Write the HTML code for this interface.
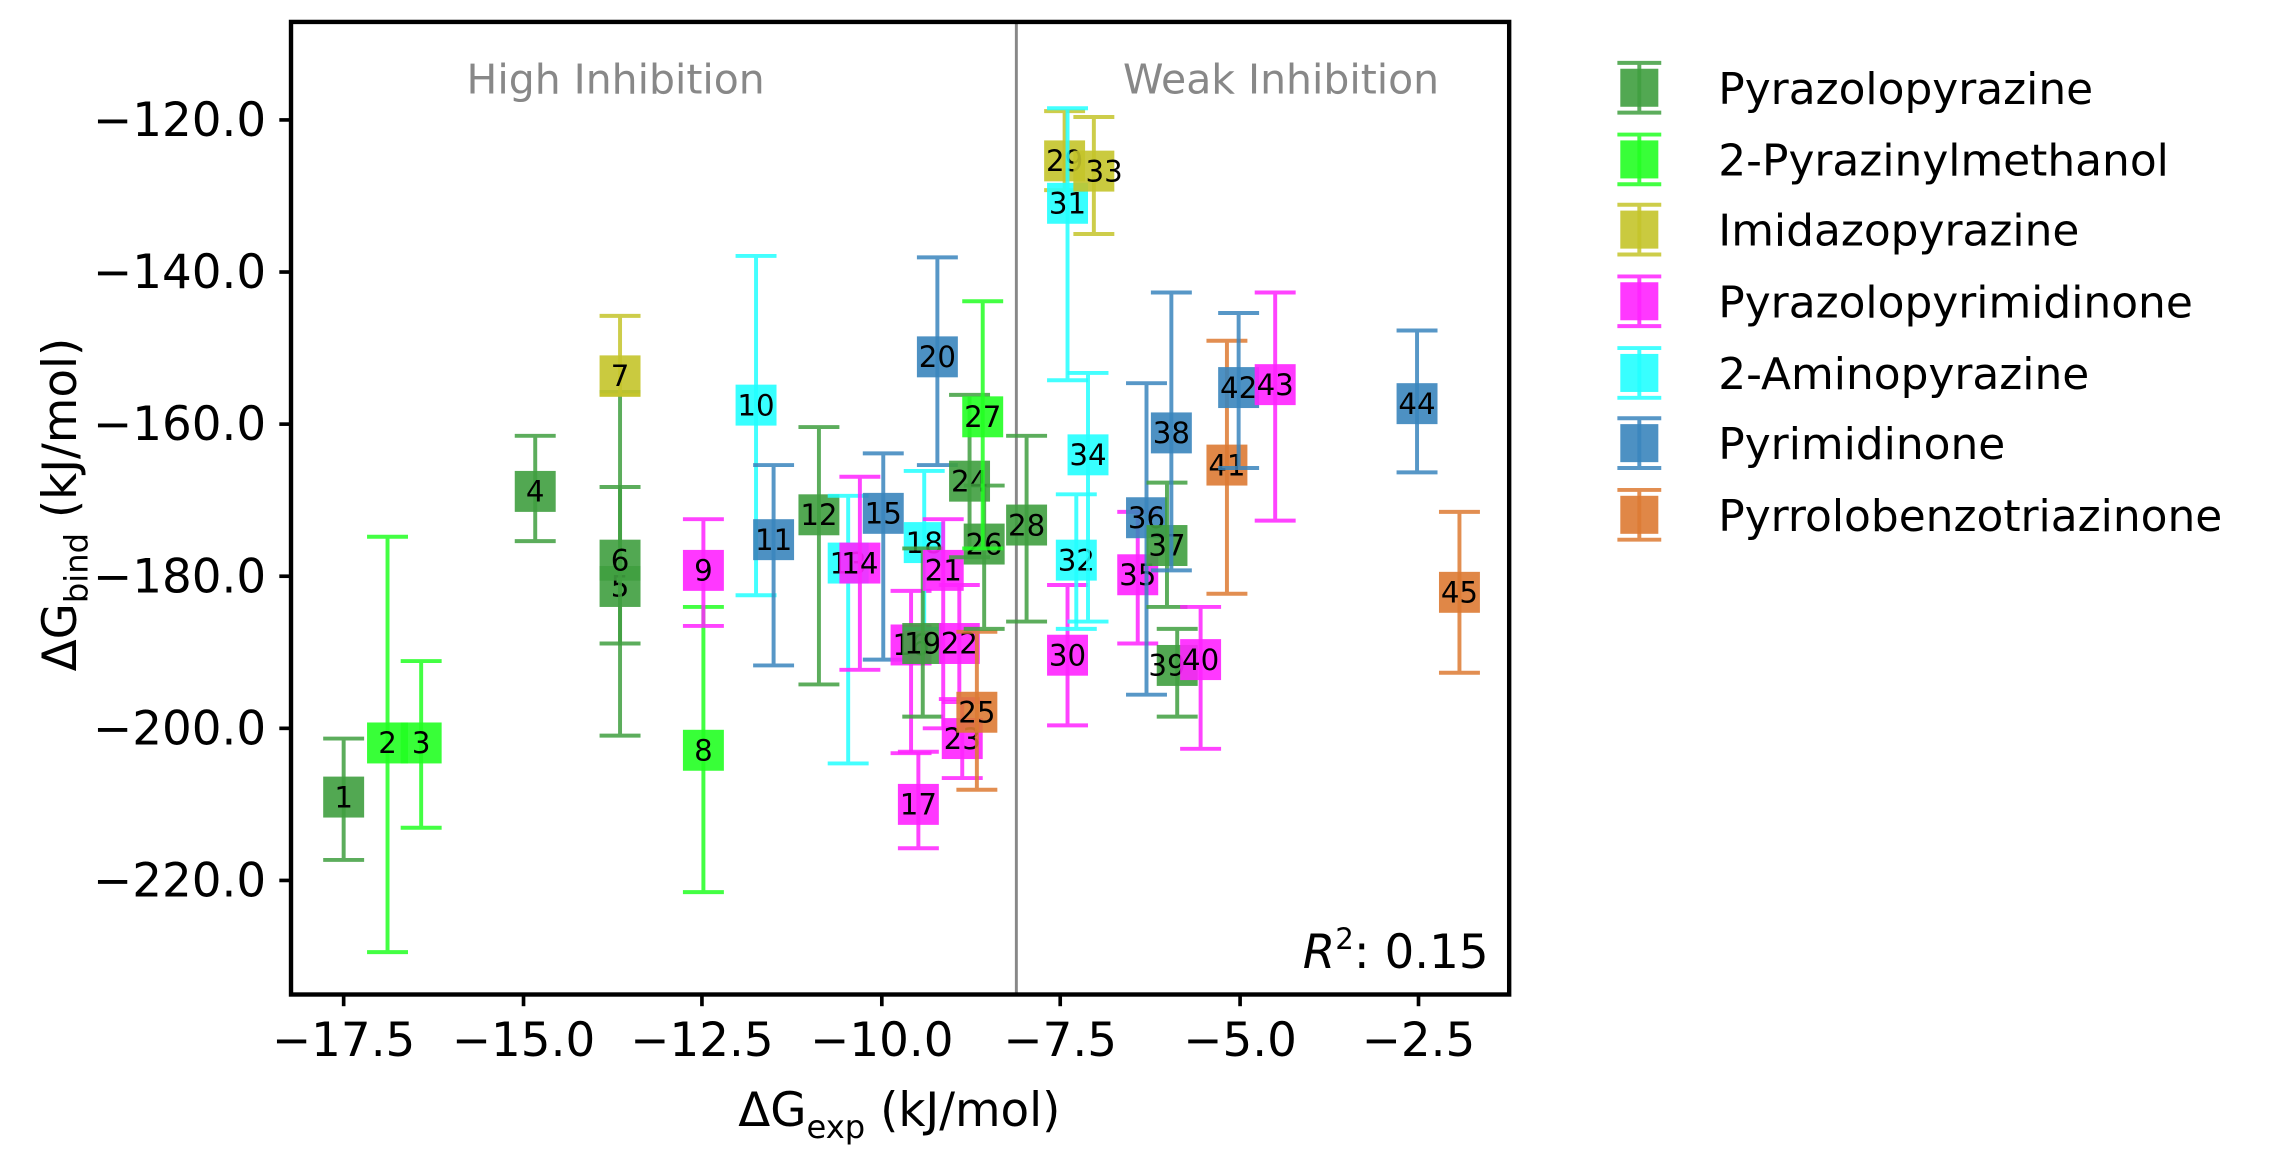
<!DOCTYPE html>
<html><head><meta charset="utf-8"><style>
html,body{margin:0;padding:0;background:#fff;}
svg{display:block;font-family:"DejaVu Sans","Liberation Sans",sans-serif;}
.p path{fill:none;stroke-width:2.7;opacity:0.85}
.p rect{opacity:0.9}
.p text{font-size:20px;text-anchor:middle;fill:#000}
.G path{stroke:#3f9f3f}.G rect{fill:#3f9f3f}
.L path{stroke:#22ff22}.L rect{fill:#22ff22}
.O path{stroke:#c4c42a}.O rect{fill:#c4c42a}
.M path{stroke:#ff22ff}.M rect{fill:#ff22ff}
.C path{stroke:#22ffff}.C rect{fill:#22ffff}
.B path{stroke:#3a85bd}.B rect{fill:#3a85bd}
.R path{stroke:#dd7a33}.R rect{fill:#dd7a33}
.lg text{font-size:30px;fill:#000}
</style></head><body>
<svg width="2293" height="1151" viewBox="0 0 1568 787" preserveAspectRatio="none" xmlns="http://www.w3.org/2000/svg">
<rect width="1568" height="787" fill="#fff"/>
<line x1="695" y1="15" x2="695" y2="680" stroke="#888" stroke-width="2"/>
<text x="421" y="64" font-size="28" fill="#888" text-anchor="middle">High Inhibition</text>
<text x="876" y="64" font-size="28" fill="#888" text-anchor="middle">Weak Inhibition</text>

<g class="p G"><path d="M235 505V588M221 505H249M221 588H249"/><rect x="221" y="531" width="28" height="28"/><text x="235" y="552">1</text></g>
<g class="p L"><path d="M265 367V651M251 367H279M251 651H279"/><rect x="251" y="494" width="28" height="28"/><text x="265" y="515">2</text></g>
<g class="p L"><path d="M288 452V566M274 452H302M274 566H302"/><rect x="274" y="494" width="28" height="28"/><text x="288" y="515">3</text></g>
<g class="p G"><path d="M366 298V370M352 298H380M352 370H380"/><rect x="352" y="322" width="28" height="28"/><text x="366" y="343">4</text></g>
<g class="p G"><path d="M424 268V503M410 268H438M410 503H438"/><rect x="410" y="387" width="28" height="28"/><text x="424" y="408">5</text></g>
<g class="p G"><path d="M424 333V440M410 333H438M410 440H438"/><rect x="410" y="369" width="28" height="28"/><text x="424" y="390">6</text></g>
<g class="p O"><path d="M424 216V270M410 216H438M410 270H438"/><rect x="410" y="243" width="28" height="28"/><text x="424" y="264">7</text></g>
<g class="p L"><path d="M481 415V610M467 415H495M467 610H495"/><rect x="467" y="499" width="28" height="28"/><text x="481" y="520">8</text></g>
<g class="p M"><path d="M481 355V428M467 355H495M467 428H495"/><rect x="467" y="376" width="28" height="28"/><text x="481" y="397">9</text></g>
<g class="p C"><path d="M517 175V407M503 175H531M503 407H531"/><rect x="503" y="263" width="28" height="28"/><text x="517" y="284">10</text></g>
<g class="p B"><path d="M529 318V455M515 318H543M515 455H543"/><rect x="515" y="355" width="28" height="28"/><text x="529" y="376">11</text></g>
<g class="p G"><path d="M560 292V468M546 292H574M546 468H574"/><rect x="546" y="338" width="28" height="28"/><text x="560" y="359">12</text></g>
<g class="p C"><path d="M580 339V522M566 339H594M566 522H594"/><rect x="566" y="371" width="28" height="28"/><text x="580" y="392">13</text></g>
<g class="p M"><path d="M588 326V458M574 326H602M574 458H602"/><rect x="574" y="371" width="28" height="28"/><text x="588" y="392">14</text></g>
<g class="p B"><path d="M604 310V451M590 310H618M590 451H618"/><rect x="590" y="337" width="28" height="28"/><text x="604" y="358">15</text></g>
<g class="p M"><path d="M623 404V515M609 404H637M609 515H637"/><rect x="609" y="427" width="28" height="28"/><text x="623" y="448">16</text></g>
<g class="p M"><path d="M628 514V580M614 514H642M614 580H642"/><rect x="614" y="536" width="28" height="28"/><text x="628" y="557">17</text></g>
<g class="p C"><path d="M632 322V430M618 322H646M618 430H646"/><rect x="618" y="357" width="28" height="28"/><text x="632" y="378">18</text></g>
<g class="p G"><path d="M631 375V490M617 375H645M617 490H645"/><rect x="617" y="426" width="28" height="28"/><text x="631" y="447">19</text></g>
<g class="p B"><path d="M641 176V318M627 176H655M627 318H655"/><rect x="627" y="230" width="28" height="28"/><text x="641" y="251">20</text></g>
<g class="p M"><path d="M645 355V498M631 355H659M631 498H659"/><rect x="631" y="376" width="28" height="28"/><text x="645" y="397">21</text></g>
<g class="p M"><path d="M656 400V478M642 400H670M642 478H670"/><rect x="642" y="426" width="28" height="28"/><text x="656" y="447">22</text></g>
<g class="p M"><path d="M658 480V532M644 480H672M644 532H672"/><rect x="644" y="491" width="28" height="28"/><text x="658" y="512">23</text></g>
<g class="p G"><path d="M663 270V381M649 270H677M649 381H677"/><rect x="649" y="315" width="28" height="28"/><text x="663" y="336">24</text></g>
<g class="p R"><path d="M668 432V540M654 432H682M654 540H682"/><rect x="654" y="473" width="28" height="28"/><text x="668" y="494">25</text></g>
<g class="p G"><path d="M673 332V430M659 332H687M659 430H687"/><rect x="659" y="358" width="28" height="28"/><text x="673" y="379">26</text></g>
<g class="p L"><path d="M672 206V375M658 206H686M658 375H686"/><rect x="658" y="271" width="28" height="28"/><text x="672" y="292">27</text></g>
<g class="p G"><path d="M702 298V425M688 298H716M688 425H716"/><rect x="688" y="345" width="28" height="28"/><text x="702" y="366">28</text></g>
<g class="p O"><path d="M728 76V130M714 76H742M714 130H742"/><rect x="714" y="96" width="28" height="28"/><text x="728" y="117">29</text></g>
<g class="p M"><path d="M730 400V496M716 400H744M716 496H744"/><rect x="716" y="434" width="28" height="28"/><text x="730" y="455">30</text></g>
<g class="p C"><path d="M730 74V260M716 74H744M716 260H744"/><rect x="716" y="125" width="28" height="28"/><text x="730" y="146">31</text></g>
<g class="p C"><path d="M736 338V430M722 338H750M722 430H750"/><rect x="722" y="369" width="28" height="28"/><text x="736" y="390">32</text></g>
<g class="p O"><path d="M748 80V160M734 80H762M734 160H762"/><rect x="734" y="103" width="28" height="28"/><text x="755" y="124">33</text></g>
<g class="p C"><path d="M744 255V425M730 255H758M730 425H758"/><rect x="730" y="297" width="28" height="28"/><text x="744" y="318">34</text></g>
<g class="p M"><path d="M778 350V440M764 350H792M764 440H792"/><rect x="764" y="379" width="28" height="28"/><text x="778" y="400">35</text></g>
<g class="p B"><path d="M784 262V475M770 262H798M770 475H798"/><rect x="770" y="340" width="28" height="28"/><text x="784" y="361">36</text></g>
<g class="p G"><path d="M798 330V415M784 330H812M784 415H812"/><rect x="784" y="359" width="28" height="28"/><text x="798" y="380">37</text></g>
<g class="p B"><path d="M801 200V390M787 200H815M787 390H815"/><rect x="787" y="282" width="28" height="28"/><text x="801" y="303">38</text></g>
<g class="p G"><path d="M805 430V490M791 430H819M791 490H819"/><rect x="791" y="441" width="28" height="28"/><text x="798" y="462">39</text></g>
<g class="p M"><path d="M821 415V512M807 415H835M807 512H835"/><rect x="807" y="437" width="28" height="28"/><text x="821" y="458">40</text></g>
<g class="p R"><path d="M839 233V406M825 233H853M825 406H853"/><rect x="825" y="304" width="28" height="28"/><text x="839" y="325">41</text></g>
<g class="p B"><path d="M847 214V320M833 214H861M833 320H861"/><rect x="833" y="251" width="28" height="28"/><text x="847" y="272">42</text></g>
<g class="p M"><path d="M872 200V356M858 200H886M858 356H886"/><rect x="858" y="249" width="28" height="28"/><text x="872" y="270">43</text></g>
<g class="p B"><path d="M969 226V323M955 226H983M955 323H983"/><rect x="955" y="262" width="28" height="28"/><text x="969" y="283">44</text></g>
<g class="p R"><path d="M998 350V460M984 350H1012M984 460H1012"/><rect x="984" y="391" width="28" height="28"/><text x="998" y="412">45</text></g>

<text x="1018" y="662" font-size="32" text-anchor="end"><tspan font-style="italic">R</tspan><tspan font-size="20" dy="-13">2</tspan><tspan dy="13">: 0.15</tspan></text>
<rect x="199" y="15" width="833" height="665" fill="none" stroke="#000" stroke-width="3"/>
<g stroke="#000" stroke-width="2.5">
<line x1="199" y1="82" x2="191" y2="82"/><line x1="199" y1="186" x2="191" y2="186"/><line x1="199" y1="290" x2="191" y2="290"/><line x1="199" y1="394" x2="191" y2="394"/><line x1="199" y1="498" x2="191" y2="498"/><line x1="199" y1="602" x2="191" y2="602"/>
<line x1="235" y1="680" x2="235" y2="688"/><line x1="358" y1="680" x2="358" y2="688"/><line x1="480" y1="680" x2="480" y2="688"/><line x1="603" y1="680" x2="603" y2="688"/><line x1="725" y1="680" x2="725" y2="688"/><line x1="848" y1="680" x2="848" y2="688"/><line x1="970" y1="680" x2="970" y2="688"/>
</g>
<g font-size="32" fill="#000" text-anchor="end">
<text x="182" y="93">−120.0</text><text x="182" y="197">−140.0</text><text x="182" y="301">−160.0</text><text x="182" y="405">−180.0</text><text x="182" y="509">−200.0</text><text x="182" y="613">−220.0</text>
</g>
<g font-size="32" fill="#000" text-anchor="middle">
<text x="235" y="722">−17.5</text><text x="358" y="722">−15.0</text><text x="480" y="722">−12.5</text><text x="603" y="722">−10.0</text><text x="725" y="722">−7.5</text><text x="848" y="722">−5.0</text><text x="970" y="722">−2.5</text>
</g>
<text x="615" y="770" font-size="32" text-anchor="middle">ΔG<tspan font-size="22" dy="8">exp</tspan><tspan dy="-8"> (kJ/mol)</tspan></text>
<text transform="translate(52,345) rotate(-90)" font-size="32" text-anchor="middle">ΔG<tspan font-size="22" dy="8">bind</tspan><tspan dy="-8"> (kJ/mol)</tspan></text>

<g class="p G"><path d="M1121 42V78M1106 43H1136M1106 77H1136"/><rect x="1108" y="47" width="26" height="26"/></g>
<g class="p L"><path d="M1121 91V127M1106 92H1136M1106 126H1136"/><rect x="1108" y="96" width="26" height="26"/></g>
<g class="p O"><path d="M1121 139V175M1106 140H1136M1106 174H1136"/><rect x="1108" y="144" width="26" height="26"/></g>
<g class="p M"><path d="M1121 188V224M1106 189H1136M1106 223H1136"/><rect x="1108" y="193" width="26" height="26"/></g>
<g class="p C"><path d="M1121 237V273M1106 238H1136M1106 272H1136"/><rect x="1108" y="242" width="26" height="26"/></g>
<g class="p B"><path d="M1121 285V321M1106 286H1136M1106 320H1136"/><rect x="1108" y="290" width="26" height="26"/></g>
<g class="p R"><path d="M1121 334V370M1106 335H1136M1106 369H1136"/><rect x="1108" y="339" width="26" height="26"/></g>
<g class="lg">
<text x="1175" y="71">Pyrazolopyrazine</text>
<text x="1175" y="120">2-Pyrazinylmethanol</text>
<text x="1175" y="168">Imidazopyrazine</text>
<text x="1175" y="217">Pyrazolopyrimidinone</text>
<text x="1175" y="266">2-Aminopyrazine</text>
<text x="1175" y="314">Pyrimidinone</text>
<text x="1175" y="363">Pyrrolobenzotriazinone</text>
</g>
</svg>
</body></html>
